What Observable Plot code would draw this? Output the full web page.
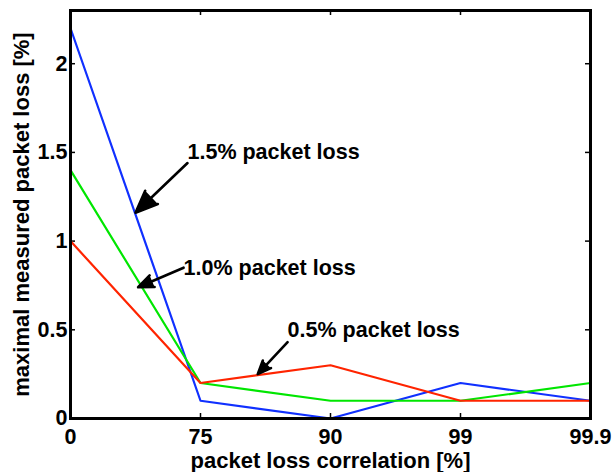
<!DOCTYPE html>
<html>
<head>
<meta charset="utf-8">
<script src="https://cdn.jsdelivr.net/npm/d3@7"></script>
<script src="https://cdn.jsdelivr.net/npm/@observablehq/plot@0.6"></script>
<style>
  html, body { margin: 0; padding: 0; background: white; }
</style>
</head>
<body>
<div id="chart"></div>
<script>
// categories along the x axis (equally spaced)
const xCategories = ["0", "75", "90", "99", "99.9"];
// series names and colours
const seriesNames = ["1.5% packet loss", "1.0% packet loss", "0.5% packet loss"];
const seriesColors = ["#1030ff", "#00e600", "#ff2400"];
// measured values (%)
const loss15 = [2.2, 0.1, 0.0, 0.2, 0.1];
const loss10 = [1.4, 0.2, 0.1, 0.1, 0.2];
const loss05 = [1.0, 0.2, 0.3, 0.1, 0.1];
// tick values
const yTicks = [0, 0.5, 1, 1.5, 2];
const xTicks = [0, 1, 2, 3, 4];
// annotation text anchors and arrows, in data units (x = category index)
const annLabels = ["1.5% packet loss", "1.0% packet loss", "0.5% packet loss"];
const annTextX = [0.90, 0.87, 1.67];
const annTextY = [1.50, 0.85, 0.50];
const annTailX = [0.90, 0.87, 1.67];
const annTailY = [1.44, 0.85, 0.43];
const annTipX = [0.50, 0.52, 1.44];
const annTipY = [1.16, 0.74, 0.25];

const seriesValues = [loss15, loss10, loss05];
const table = [];
seriesValues.forEach((vals, s) => vals.forEach((v, i) => table.push({x: i, y: v, s: seriesNames[s]})));
const ann = annLabels.map((label, i) => ({
  label, tx: annTextX[i], ty: annTextY[i],
  x1: annTailX[i], y1: annTailY[i], x2: annTipX[i], y2: annTipY[i]
}));

const chart = Plot.plot({
  width: 612,
  height: 472,
  marginLeft: 70,
  marginRight: 22,
  marginTop: 10,
  marginBottom: 54,
  style: {
    fontFamily: "'Liberation Sans', Arial, Helvetica, sans-serif",
    fontWeight: "bold",
    fontSize: "21px",
    background: "white",
    color: "black"
  },
  x: {domain: [0, 4], axis: null},
  y: {domain: [0, 2.3], axis: null},
  color: {domain: seriesNames, range: seriesColors},
  marks: [
    Plot.axisX(xTicks, {tickSize: 0, tickPadding: 10, tickFormat: i => xCategories[i], fontSize: 21.5, label: null}),
    Plot.axisY(yTicks, {tickSize: 0, tickPadding: 3, tickFormat: d => String(d), fontSize: 21.5, label: null}),
    // inward tick marks on all four sides
    Plot.tickY(yTicks, {y: d => d, insetRight: 515, strokeWidth: 1.5}),
    Plot.tickY(yTicks, {y: d => d, insetLeft: 515, strokeWidth: 1.5}),
    Plot.tickX(xTicks, {x: d => d, insetTop: 403, strokeWidth: 1.5}),
    Plot.tickX(xTicks, {x: d => d, insetBottom: 403, strokeWidth: 1.5}),
    Plot.line(table, {x: "x", y: "y", z: "s", stroke: "s", strokeWidth: 2.2}),
    Plot.frame({stroke: "black", strokeWidth: 3}),
    Plot.arrow(ann, {x1: "x1", y1: "y1", x2: "x2", y2: "y2", stroke: "black", fill: "black", strokeWidth: 2.6, headLength: 14, headAngle: 45}),
    Plot.text(ann, {x: "tx", y: "ty", text: "label", textAnchor: "start", fontSize: 21.5, fill: "black"}),
    Plot.text(["maximal measured packet loss [%]"], {frameAnchor: "left", textAnchor: "middle", lineAnchor: "middle", rotate: -90, dx: -49, fontSize: 22, fill: "black"}),
    Plot.text(["packet loss correlation [%]"], {frameAnchor: "bottom", textAnchor: "middle", lineAnchor: "middle", dy: 42, fontSize: 22, fill: "black"})
  ]
});
document.getElementById("chart").appendChild(chart);
</script>
</body>
</html>
